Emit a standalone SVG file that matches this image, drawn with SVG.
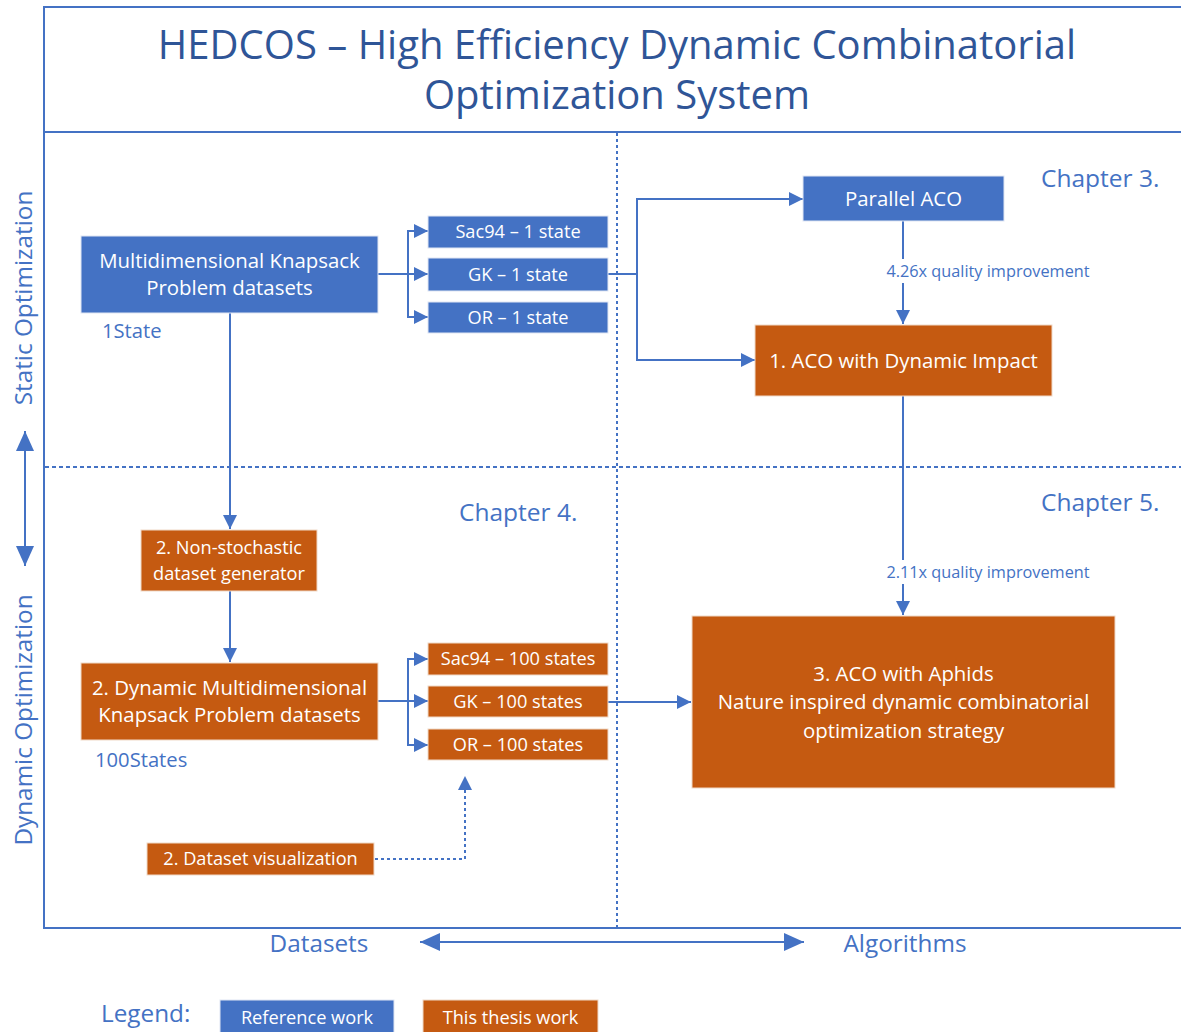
<svg xmlns="http://www.w3.org/2000/svg" width="1181" height="1032" viewBox="0 0 1181 1032">
  <defs>
    <marker id="arrow" viewBox="0 0 14 14" refX="14" refY="7" markerWidth="14" markerHeight="14" markerUnits="userSpaceOnUse" orient="auto">
      <path d="M0,0 L14,7 L0,14 Z" fill="#4472C4"/>
    </marker>
    <marker id="arrowBig" viewBox="0 0 20 18" refX="20" refY="9" markerWidth="20" markerHeight="18" markerUnits="userSpaceOnUse" orient="auto-start-reverse">
      <path d="M0,0 L20,9 L0,18 Z" fill="#4472C4"/>
    </marker>
  </defs>
  <style>
    text { font-family: "Open Sans", "Noto Sans", sans-serif; }
    .frame { fill: none; stroke: #4472C4; stroke-width: 2; }
    .grid { fill: none; stroke: #4472C4; stroke-width: 2; }
    .ref rect { fill: #4472C4; stroke: #dfe6f3; stroke-width: 1; }
    .own rect { fill: #C55A11; stroke: #f0d9c8; stroke-width: 1; }
    .node text { fill: #ffffff; text-anchor: middle; }
    .big { font-size: 20.4px; }
    .small { font-size: 18.2px; }
    .conn { fill: none; stroke: #4472C4; stroke-width: 2; }
    .dotted { stroke-dasharray: 3 3; }
    .title { fill: #2F5597; font-size: 40px; text-anchor: middle; }
    .axis { fill: #4472C4; font-size: 24.3px; }
    .chapter { fill: #4472C4; font-size: 24.5px; }
    .note { fill: #4472C4; font-size: 20.2px; }
    .gain { fill: #4472C4; font-size: 16.3px; text-anchor: middle; }
  </style>

  <!-- outer frame and quadrant grid -->
  <g id="frame">
    <polyline class="frame" points="1181,7 44,7 44,928 1181,928"/>
    <line class="frame" x1="44" y1="132" x2="1181" y2="132"/>
    <line class="grid" x1="617" y1="133" x2="617" y2="927" stroke-dasharray="3 3"/>
    <line class="grid" x1="45" y1="467" x2="1181" y2="467" stroke-dasharray="4 3"/>
  </g>

  <g id="title">
    <text class="title" x="617" y="59">HEDCOS – High Efficiency Dynamic Combinatorial</text>
    <text class="title" x="617" y="109">Optimization System</text>
  </g>

  <!-- axis labels -->
  <g id="axes">
    <text class="axis" transform="translate(32,298) rotate(-90)" text-anchor="middle">Static Optimization</text>
    <text class="axis" transform="translate(32,720) rotate(-90)" text-anchor="middle">Dynamic Optimization</text>
    <line class="conn" x1="25" y1="431" x2="25" y2="566" marker-start="url(#arrowBig)" marker-end="url(#arrowBig)"/>
    <text class="axis" x="319" y="952" text-anchor="middle">Datasets</text>
    <text class="axis" x="905" y="952" text-anchor="middle">Algorithms</text>
    <line class="conn" x1="420" y1="942" x2="804" y2="942" marker-start="url(#arrowBig)" marker-end="url(#arrowBig)"/>
  </g>

  <!-- chapter markers and side notes -->
  <g id="labels">
    <text class="chapter" x="1041" y="187">Chapter 3.</text>
    <text class="chapter" x="459" y="521">Chapter 4.</text>
    <text class="chapter" x="1041" y="511">Chapter 5.</text>
    <text class="note" x="102" y="338">1State</text>
    <text class="note" x="95" y="767">100States</text>
  </g>

  <!-- connectors -->
  <g id="connectors">
    <!-- static dataset fan-out -->
    <line class="conn" x1="378" y1="274" x2="408" y2="274"/>
    <polyline class="conn" points="408,231 408,317"/>
    <line class="conn" x1="407" y1="231" x2="428" y2="231" marker-end="url(#arrow)"/>
    <line class="conn" x1="407" y1="274" x2="428" y2="274" marker-end="url(#arrow)"/>
    <line class="conn" x1="407" y1="317" x2="428" y2="317" marker-end="url(#arrow)"/>
    <!-- GK 1 state to algorithms -->
    <line class="conn" x1="608" y1="274" x2="637" y2="274"/>
    <polyline class="conn" points="803,199 637,199 637,360 755,360" marker-end="url(#arrow)"/>
    <line class="conn" x1="637" y1="199" x2="803" y2="199" marker-end="url(#arrow)"/>
    <!-- Parallel ACO to ACO with Dynamic Impact -->
    <line class="conn" x1="903" y1="221" x2="903" y2="259"/>
    <line class="conn" x1="903" y1="283" x2="903" y2="324" marker-end="url(#arrow)"/>
    <text class="gain" x="988" y="277">4.26x quality improvement</text>
    <!-- ACO with Dynamic Impact to ACO with Aphids -->
    <line class="conn" x1="903" y1="396" x2="903" y2="560"/>
    <line class="conn" x1="903" y1="584" x2="903" y2="615" marker-end="url(#arrow)"/>
    <text class="gain" x="988" y="578">2.11x quality improvement</text>
    <!-- dataset pipeline -->
    <line class="conn" x1="230" y1="313" x2="230" y2="529" marker-end="url(#arrow)"/>
    <line class="conn" x1="230" y1="591" x2="230" y2="662" marker-end="url(#arrow)"/>
    <!-- dynamic dataset fan-out -->
    <line class="conn" x1="378" y1="701" x2="408" y2="701"/>
    <polyline class="conn" points="408,659 408,745"/>
    <line class="conn" x1="407" y1="659" x2="428" y2="659" marker-end="url(#arrow)"/>
    <line class="conn" x1="407" y1="701" x2="428" y2="701" marker-end="url(#arrow)"/>
    <line class="conn" x1="407" y1="745" x2="428" y2="745" marker-end="url(#arrow)"/>
    <!-- GK 100 states to ACO with Aphids -->
    <line class="conn" x1="608" y1="702" x2="691" y2="702" marker-end="url(#arrow)"/>
    <!-- visualization feedback -->
    <polyline class="conn dotted" points="375,859 465,859 465,776" marker-end="url(#arrow)"/>
  </g>

  <!-- nodes -->
  <g id="mkp" class="node ref">
    <rect x="81" y="236" width="297" height="77"/>
    <text class="big" x="229.5" y="268">Multidimensional Knapsack</text>
    <text class="big" x="229.5" y="295">Problem datasets</text>
  </g>
  <g id="sac94-1" class="node ref">
    <rect x="428" y="216" width="180" height="32"/>
    <text class="small" x="518" y="238">Sac94 – 1 state</text>
  </g>
  <g id="gk-1" class="node ref">
    <rect x="428" y="258" width="180" height="33"/>
    <text class="small" x="518" y="281">GK – 1 state</text>
  </g>
  <g id="or-1" class="node ref">
    <rect x="428" y="302" width="180" height="31"/>
    <text class="small" x="518" y="324">OR – 1 state</text>
  </g>
  <g id="parallel-aco" class="node ref">
    <rect x="803" y="176" width="201" height="45"/>
    <text class="big" x="903.5" y="206">Parallel ACO</text>
  </g>
  <g id="aco-dynamic-impact" class="node own">
    <rect x="755" y="325" width="297" height="71"/>
    <text class="big" x="903.5" y="368">1. ACO with Dynamic Impact</text>
  </g>
  <g id="generator" class="node own">
    <rect x="141" y="530" width="176" height="61"/>
    <text class="small" x="229" y="554">2. Non-stochastic</text>
    <text class="small" x="229" y="580">dataset generator</text>
  </g>
  <g id="dmkp" class="node own">
    <rect x="81" y="663" width="297" height="77"/>
    <text class="big" x="229.5" y="695">2. Dynamic Multidimensional</text>
    <text class="big" x="229.5" y="722">Knapsack Problem datasets</text>
  </g>
  <g id="sac94-100" class="node own">
    <rect x="428" y="643" width="180" height="32"/>
    <text class="small" x="518" y="665">Sac94 – 100 states</text>
  </g>
  <g id="gk-100" class="node own">
    <rect x="428" y="686" width="180" height="31"/>
    <text class="small" x="518" y="708">GK – 100 states</text>
  </g>
  <g id="or-100" class="node own">
    <rect x="428" y="729" width="180" height="31"/>
    <text class="small" x="518" y="751">OR – 100 states</text>
  </g>
  <g id="aco-aphids" class="node own">
    <rect x="692" y="616" width="423" height="172"/>
    <text class="big" x="903.5" y="681">3. ACO with Aphids</text>
    <text class="big" x="903.5" y="709">Nature inspired dynamic combinatorial</text>
    <text class="big" x="903.5" y="738">optimization strategy</text>
  </g>
  <g id="visualization" class="node own">
    <rect x="147" y="843" width="227" height="32"/>
    <text class="small" x="260.5" y="865">2. Dataset visualization</text>
  </g>

  <!-- legend -->
  <g id="legend">
    <text class="axis" x="101" y="1022">Legend:</text>
    <g id="legend-reference" class="node ref">
      <rect x="220" y="1000" width="174" height="33"/>
      <text class="small" x="307" y="1024">Reference work</text>
    </g>
    <g id="legend-thesis" class="node own">
      <rect x="423" y="1000" width="175" height="33"/>
      <text class="small" x="510.5" y="1024">This thesis work</text>
    </g>
  </g>
</svg>
